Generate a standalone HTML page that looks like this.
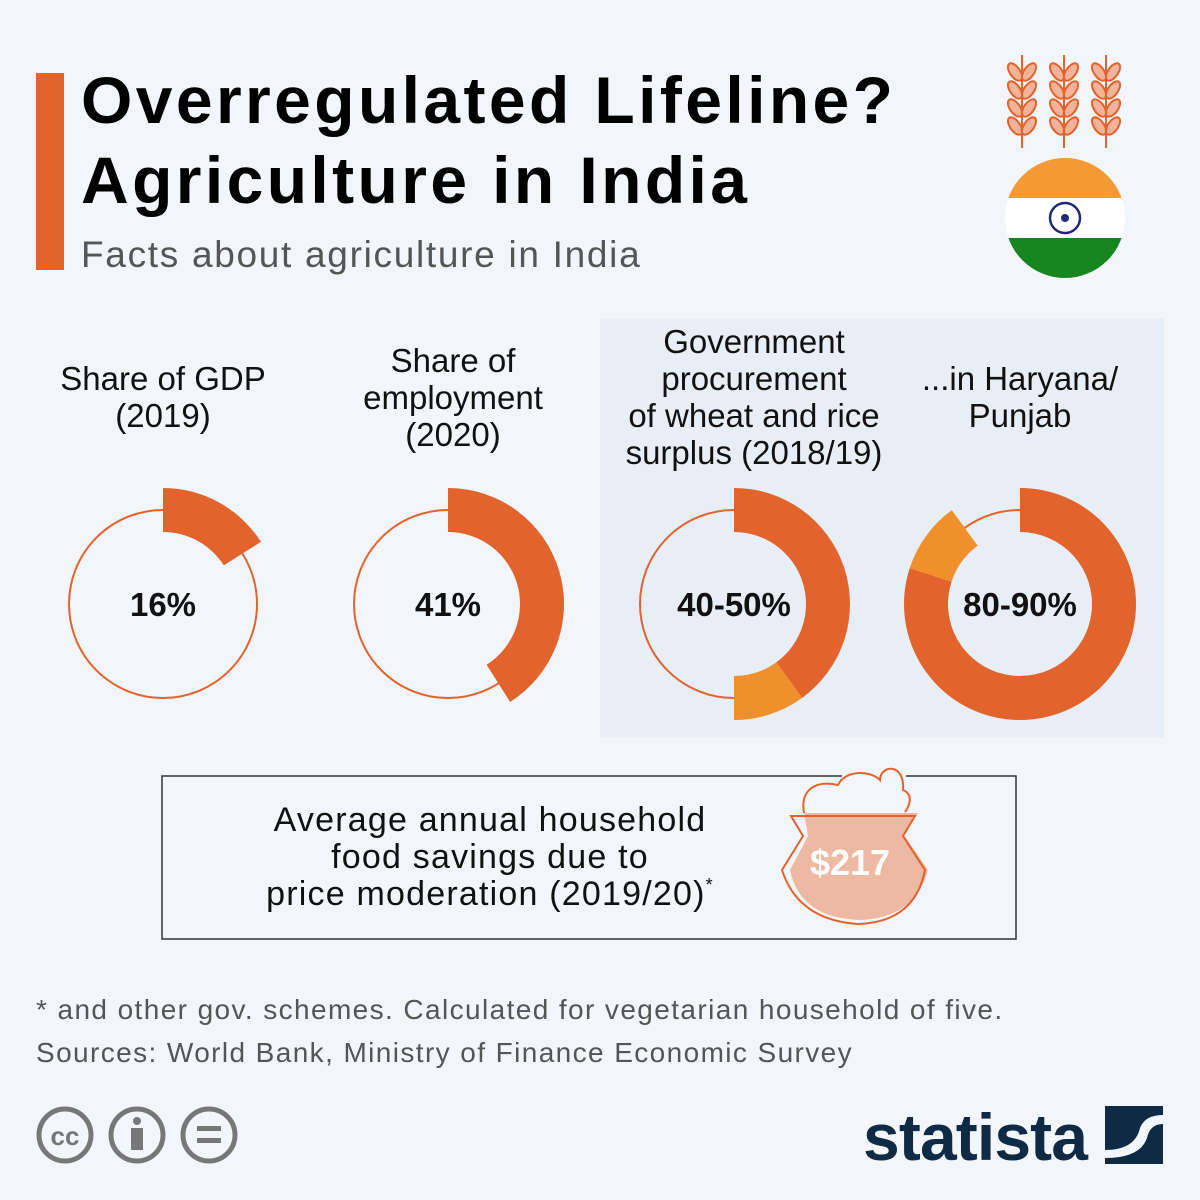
<!DOCTYPE html>
<html><head><meta charset="utf-8">
<style>
body{margin:0;width:1200px;height:1200px;background:#f2f5f9;font-family:"Liberation Sans",sans-serif;position:relative;overflow:hidden}
.abs{position:absolute}
sup{line-height:0;vertical-align:14px}
</style></head>
<body>
<div class="abs" style="left:36px;top:73px;width:28px;height:197px;background:#e2632c"></div>
<div class="abs" style="left:81px;top:60px;font-size:66px;font-weight:bold;line-height:80px;color:#000;letter-spacing:3.4px">Overregulated Lifeline?<br>Agriculture in India</div>
<div class="abs" style="left:81px;top:234px;font-size:37px;color:#555;letter-spacing:1.7px">Facts about agriculture in India</div>

<svg class="abs" style="left:0;top:0" width="1200" height="1200">
<rect x="600" y="318" width="564" height="420" fill="#e8eef6"/>
<g id="donuts"></g>
<g stroke="#e2632c" stroke-width="2" fill="#f2b39a">
<g id="wheat"></g>
</g>
<g>
<clipPath id="fc"><circle cx="1065" cy="218" r="60"/></clipPath>
<g clip-path="url(#fc)">
<rect x="1000" y="150" width="130" height="48" fill="#f39a35"/>
<rect x="1000" y="198" width="130" height="40" fill="#fff"/>
<rect x="1000" y="238" width="130" height="50" fill="#17861e"/>
</g>
<circle cx="1065" cy="218" r="15" fill="none" stroke="#1f2a7a" stroke-width="2.5"/>
<circle cx="1065" cy="218" r="4" fill="#1f2a7a"/>
</g>
<path d="M842 776 L162 776 L162 939 L1016 939 L1016 776 L906 776" fill="none" stroke="#333" stroke-width="1.5"/>
<g>
<path d="M804 813 L918 813 L904 835 L928 870 Q915 918 860 920 Q800 918 790 870 L808 836 Z" fill="#edb9a3"/>
<path d="M804 813 C800 790 815 780 838 785 C845 770 870 770 880 780 C880 765 905 762 903 790 C915 795 908 808 905 812" fill="none" stroke="#e2632c" stroke-width="2"/>
<path d="M791 816 L915 816 L903 836 L925 870 Q915 922 858 924 Q798 920 782 870 L803 836 Z" fill="none" stroke="#e2632c" stroke-width="2"/>
<text x="850" y="875" font-size="36" font-weight="bold" fill="#fff" text-anchor="middle" font-family="Liberation Sans, sans-serif">$217</text>
</g>
<g fill="none" stroke="#777" stroke-width="5">
<circle cx="65" cy="1135" r="26"/><circle cx="137" cy="1135" r="26"/><circle cx="209" cy="1135" r="26"/>
<text x="65" y="1145" font-size="26" font-weight="bold" fill="#777" stroke="none" text-anchor="middle">cc</text>
<circle cx="137" cy="1121" r="4" fill="#777" stroke="none"/><rect x="131" y="1128" width="12" height="22" fill="#777" stroke="none"/>
<rect x="197" y="1126" width="24" height="5" fill="#777" stroke="none"/><rect x="197" y="1138" width="24" height="5" fill="#777" stroke="none"/>
</g>
<g>
<text x="863" y="1160" font-size="66" font-weight="bold" fill="#0f2a44" font-family="Liberation Sans, sans-serif" textLength="225">statista</text>
<rect x="1105" y="1106" width="58" height="58" fill="#0f2a44"/>
<path d="M1105 1150 Q1135 1150 1140 1128 Q1145 1115 1163 1115 L1163 1124 Q1150 1124 1147 1138 Q1140 1158 1105 1158 Z" fill="#f2f5f9"/>
</g>
</svg>

<div class="abs" style="left:43px;width:240px;top:360px;font-size:33px;line-height:37px;text-align:center;color:#111">Share of GDP<br>(2019)</div>
<div class="abs" style="left:333px;width:240px;top:342px;font-size:33px;line-height:37px;text-align:center;color:#111">Share of<br>employment<br>(2020)</div>
<div class="abs" style="left:604px;width:300px;top:323px;font-size:33px;line-height:37px;text-align:center;color:#111">Government<br>procurement<br>of wheat and rice<br>surplus (2018/19)</div>
<div class="abs" style="left:900px;width:240px;top:360px;font-size:33px;line-height:37px;text-align:center;color:#111">...in Haryana/<br>Punjab</div>

<div class="abs" style="left:200px;width:580px;top:802px;font-size:34px;line-height:37px;text-align:center;color:#111;letter-spacing:1.2px">Average annual household<br>food savings due to<br>price moderation (2019/20)<sup style="font-size:18px">*</sup></div>

<div class="abs" style="left:36px;top:988px;font-size:28px;line-height:43px;color:#555;letter-spacing:1.4px">* and other gov. schemes. Calculated for vegetarian household of five.<br>Sources: World Bank, Ministry of Finance Economic Survey</div>

<script>
const labels=["16%","41%","40-50%","80-90%"];
const mainValues=[16,41,40,80];
const extraValues=[0,0,10,10];
const centersX=[163,448,734,1020];
const cy=604,R=116,r=72,rt=94;
const ns="http://www.w3.org/2000/svg";
const g=document.getElementById('donuts');
function pt(pct,rad,cx){const a=pct/100*2*Math.PI;return [cx+rad*Math.sin(a),cy-rad*Math.cos(a)];}
function arc(p0,p1,cx){
  const large=(p1-p0)>50?1:0;
  const a=pt(p0,R,cx),b=pt(p1,R,cx),c=pt(p1,r,cx),d=pt(p0,r,cx);
  return `M${a[0]} ${a[1]} A${R} ${R} 0 ${large} 1 ${b[0]} ${b[1]} L${c[0]} ${c[1]} A${r} ${r} 0 ${large} 0 ${d[0]} ${d[1]} Z`;
}
labels.forEach((lab,i)=>{
  const cx=centersX[i];
  const c=document.createElementNS(ns,'circle');
  c.setAttribute('cx',cx);c.setAttribute('cy',cy);c.setAttribute('r',rt);
  c.setAttribute('fill','none');c.setAttribute('stroke','#e2632c');c.setAttribute('stroke-width','2');
  
  
  g.appendChild(c);
  const p=document.createElementNS(ns,'path');
  p.setAttribute('d',arc(0,mainValues[i],cx));p.setAttribute('fill','#e2632c');
  
  
  g.appendChild(p);
  if(extraValues[i]>0){
    const q=document.createElementNS(ns,'path');
    q.setAttribute('d',arc(mainValues[i],mainValues[i]+extraValues[i],cx));q.setAttribute('fill','#ef902c');
    
    
    g.appendChild(q);
  }
  const t=document.createElementNS(ns,'text');
  t.setAttribute('x',cx);t.setAttribute('y',cy+12);t.setAttribute('text-anchor','middle');
  t.setAttribute('font-size','33');t.setAttribute('font-weight','bold');t.setAttribute('fill','#111');
  
  
  t.textContent=lab;g.appendChild(t);
});
const w=document.getElementById('wheat');
[1022,1064,1106].forEach(x=>{
  const l=document.createElementNS(ns,'line');
  l.setAttribute('x1',x);l.setAttribute('x2',x);l.setAttribute('y1',55);l.setAttribute('y2',148);
  
  
  w.appendChild(l);
  [72,90,108,126].forEach(y=>{[-1,1].forEach(s=>{
    const e=document.createElementNS(ns,'ellipse');
    e.setAttribute('cx',x+s*7);e.setAttribute('cy',y);e.setAttribute('rx',5);e.setAttribute('ry',10);
    e.setAttribute('transform',`rotate(${s*35} ${x+s*7} ${y})`);
    
    
    w.appendChild(e);
  });});
});
</script>
</body></html>
